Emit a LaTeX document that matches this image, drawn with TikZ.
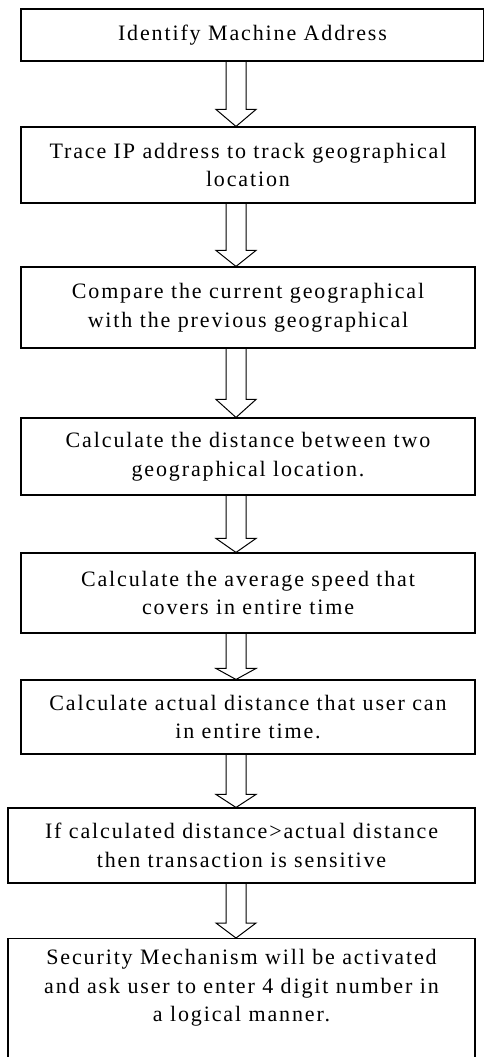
\documentclass[tikz,border=0pt]{standalone}
\usepackage{fontspec}
\setmainfont{Liberation Serif}[LetterSpace=8.5]
\usetikzlibrary{calc}
\tikzset{
  stepbox/.style={draw, line width=1.1pt, rectangle, align=center, inner sep=0pt,
    font=\fontsize{22}{28.5}\selectfont},
  hollow/.style={draw, line width=1pt, line join=miter}
}
% hollow block arrow between two boxes: from, to, head length
\newcommand{\flowarrow}[3]{%
  \draw[hollow] ($(#1.south -| ax)+(-10,0)$) -- ($(#2.north -| ax)+(-10,#3)$) -- ++(-10,0)
    -- (#2.north -| ax) -- ($(#2.north -| ax)+(20,#3)$) -- ++(-10,0) -- ($(#1.south -| ax)+(10,0)$);
}
\begin{document}
\begin{tikzpicture}[x=1pt,y=1pt]
  \useasboundingbox (0,0) rectangle (483,-1057);
  \coordinate (ax) at (236,0);
  \node[stepbox, minimum width=463pt, minimum height=52pt] (identify) at (252.5,-35) {Identify Machine Address};
  \node[stepbox, minimum width=454pt, minimum height=76pt] (trace) at (248,-165) {Trace IP address to track geographical\\location};
  \node[stepbox, minimum width=454pt, minimum height=81pt] (compare) at (248,-307.5) {Compare the current geographical\\with the previous geographical};
  \node[stepbox, minimum width=454pt, minimum height=77pt] (distance) at (248,-456.5) {Calculate the distance between two\\geographical location.};
  \node[stepbox, minimum width=454pt, minimum height=80pt] (speed) at (248,-593) {Calculate the average speed that\\covers in entire time};
  \node[stepbox, minimum width=454pt, minimum height=74pt] (actual) at (248,-717) {Calculate actual distance that user can\\in entire time.};
  \node[stepbox, minimum width=467pt, minimum height=75pt] (check) at (241.5,-845.5) {If calculated distance>actual distance\\then transaction is sensitive};
  \node[stepbox, minimum width=467pt, anchor=north, inner ysep=11pt, text depth=70pt] (secure) at (241.5,-938) {Security Mechanism will be activated\\and ask user to enter 4 digit number in\\a logical manner.};
  % arrows
  \flowarrow{identify}{trace}{17}
  \flowarrow{trace}{compare}{16}
  \flowarrow{compare}{distance}{18}
  \flowarrow{distance}{speed}{14}
  \flowarrow{speed}{actual}{11}
  \flowarrow{actual}{check}{13}
  \flowarrow{check}{secure}{15}
\end{tikzpicture}
\end{document}
